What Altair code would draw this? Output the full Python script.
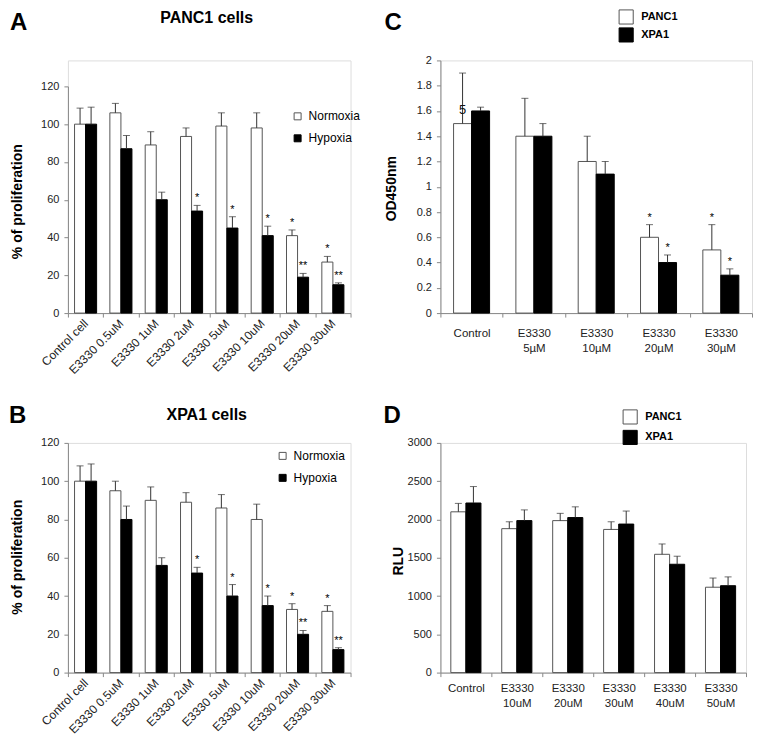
import altair as alt
import pandas as pd

FONT = "Liberation Sans"

# ---------------- Panel A : PANC1 cells ----------------
a_cats = ["Control cell", "E3330 0.5uM", "E3330 1uM", "E3330 2uM",
          "E3330 5uM", "E3330 10uM", "E3330 20uM", "E3330 30uM"]
a_series = ["Normoxia", "Hypoxia"]
a_norm = [100, 106, 89, 93.5, 99, 98, 41, 27]
a_norm_err = [108.5, 111, 96, 98, 106, 106, 44, 30]
a_hyp = [100, 87, 60, 54, 45, 41, 19, 15]
a_hyp_err = [109, 94, 64, 57, 51, 46, 21, 16]
a_norm_star = ["", "", "", "", "", "", "*", "*"]
a_hyp_star = ["", "", "", "*", "*", "*", "**", "**"]

# ---------------- Panel B : XPA1 cells ----------------
b_cats = a_cats
b_series = a_series
b_norm = [100, 95, 90, 89, 86, 80, 33, 32]
b_norm_err = [108, 100, 97, 94, 93, 88, 36, 35]
b_hyp = [100, 80, 56, 52, 40, 35, 20, 12]
b_hyp_err = [109, 87, 60, 55, 46, 40, 22, 13]
b_norm_star = ["", "", "", "", "", "", "*", "*"]
b_hyp_star = ["", "", "", "*", "*", "*", "**", "**"]

# ---------------- Panel C : OD450nm ----------------
c_cats = ["Control", "E3330 5µM", "E3330 10µM", "E3330 20µM", "E3330 30µM"]
c_series = ["PANC1", "XPA1"]
c_panc = [1.5, 1.4, 1.2, 0.6, 0.5]
c_panc_err = [1.9, 1.7, 1.4, 0.7, 0.7]
c_xpa = [1.6, 1.4, 1.1, 0.4, 0.3]
c_xpa_err = [1.63, 1.5, 1.2, 0.46, 0.35]
c_panc_star = ["", "", "", "*", "*"]
c_xpa_star = ["", "", "", "*", "*"]
c_note_text = ["5"]
c_note_cat = ["Control"]
c_note_series = ["PANC1"]
c_note_value = [1.61]

# ---------------- Panel D : RLU ----------------
d_cats = ["Control", "E3330 10uM", "E3330 20uM", "E3330 30uM", "E3330 40uM", "E3330 50uM"]
d_series = ["PANC1", "XPA1"]
d_panc = [2100, 1880, 1985, 1870, 1545, 1115]
d_panc_err = [2210, 1970, 2080, 1970, 1680, 1235]
d_xpa = [2215, 1985, 2025, 1940, 1415, 1135]
d_xpa_err = [2430, 2125, 2165, 2110, 1520, 1250]
d_panc_star = ["", "", "", "", "", ""]
d_xpa_star = ["", "", "", "", "", ""]

panel_letters = ["A", "B", "C", "D"]
panel_titles = ["PANC1 cells", "XPA1 cells"]

AXIS_GRAY = "#888888"


def make_panel(cats, series, vals, errs, stars, *, width, height, yrange, ydomain,
               yvalues, yfmt, ytitle, ytitle_xy, letter, letter_xy, legend,
               pad_outer, rotated, xlabel_pad=6, title=None, title_xy=None, notes=None):
    rows = []
    for ci, c in enumerate(cats):
        for si, s in enumerate(series):
            rows.append({"cat": c, "series": s, "value": vals[si][ci],
                         "err": errs[si][ci], "star": stars[si][ci]})
    df = pd.DataFrame(rows)

    if rotated:
        xaxis = alt.Axis(title=None, tickBand="extent", labelAngle=315,
                         labelAlign="right", labelBaseline="middle", labelPadding=4,
                         labelFont=FONT, labelFontSize=12, labelColor="#222",
                         domainColor=AXIS_GRAY, tickColor=AXIS_GRAY, tickSize=4)
    else:
        xaxis = alt.Axis(title=None, tickBand="extent", labelAngle=0,
                         labelExpr="split(datum.label, ' ')", labelBaseline="top",
                         labelLineHeight=15, labelPadding=xlabel_pad,
                         labelFont=FONT, labelFontSize=11.5, labelColor="#222",
                         domainColor=AXIS_GRAY, tickColor=AXIS_GRAY, tickSize=4)
    x = alt.X("cat:N", scale=alt.Scale(domain=cats, paddingInner=0, paddingOuter=0),
              axis=xaxis)
    xoff = alt.XOffset("series:N", scale=alt.Scale(domain=series, paddingInner=0,
                                                   paddingOuter=pad_outer))
    yscale_kw = dict(domain=ydomain, nice=False, zero=True)
    if yrange is not None:
        yscale_kw["range"] = yrange
    yaxis = alt.Axis(values=yvalues, format=yfmt, title=ytitle, titleFont=FONT,
                     titleFontSize=14, titleFontWeight="bold", titleAngle=270,
                     titleBaseline="alphabetic", titleAlign="center",
                     titleX=ytitle_xy[0], titleY=ytitle_xy[1], titleColor="black",
                     labelFont=FONT, labelFontSize=11, labelColor="#222", labelPadding=5,
                     domainColor=AXIS_GRAY, tickColor=AXIS_GRAY, tickSize=4, grid=False)

    def Y(field):
        return alt.Y(field, scale=alt.Scale(**yscale_kw), axis=yaxis)

    bars = alt.Chart(df).mark_bar(strokeWidth=1).encode(
        x=x, xOffset=xoff, y=Y("value:Q"),
        fill=alt.Fill("series:N", scale=alt.Scale(domain=series, range=["white", "black"]),
                      legend=legend),
        stroke=alt.Stroke("series:N", scale=alt.Scale(domain=series, range=["#555555", "#000000"]),
                          legend=None),
    )
    err_line = alt.Chart(df).mark_rule(color="#333", strokeWidth=1).encode(
        x=x, xOffset=xoff, y=Y("value:Q"), y2="err:Q")
    err_cap = alt.Chart(df).mark_tick(color="#333", thickness=1, size=7,
                                      orient="horizontal").encode(
        x=x, xOffset=xoff, y=Y("err:Q"))
    star_txt = alt.Chart(df).transform_filter("datum.star != ''").mark_text(
        font=FONT, fontSize=11, baseline="alphabetic", dy=-4, color="black").encode(
        x=x, xOffset=xoff, y=Y("err:Q"), text="star:N")
    letter_df = pd.DataFrame({"t": [letter]})
    letter_txt = alt.Chart(letter_df).mark_text(
        font=FONT, fontSize=24, fontWeight="bold", align="left", baseline="alphabetic",
        color="black").encode(x=alt.value(letter_xy[0]), y=alt.value(letter_xy[1]),
                              text="t:N")
    layers = [bars, err_line, err_cap, star_txt, letter_txt]
    if title is not None:
        title_df = pd.DataFrame({"t": [title]})
        layers.append(alt.Chart(title_df).mark_text(
            font=FONT, fontSize=16, fontWeight="bold", align="center",
            baseline="alphabetic", color="black").encode(
            x=alt.value(title_xy[0]), y=alt.value(title_xy[1]), text="t:N"))
    if notes is not None:
        ndf = pd.DataFrame(notes)
        layers.append(alt.Chart(ndf).mark_text(font=FONT, fontSize=13, baseline="middle",
                                               color="#111").encode(
            x=x, xOffset=xoff, y=Y("value:Q"), text="text:N"))
    return alt.layer(*layers).properties(width=width, height=height)


def small_legend(lx, ly):
    return alt.Legend(orient="none", legendX=lx, legendY=ly, title=None,
                      symbolType="square", symbolSize=49, symbolStrokeColor="#555",
                      symbolStrokeWidth=1, labelFont=FONT, labelFontSize=12,
                      labelColor="black", rowPadding=10, labelOffset=5, padding=0)


def big_legend(lx, ly, rowpad):
    return alt.Legend(orient="none", legendX=lx, legendY=ly, title=None,
                      symbolType="square", symbolSize=200, symbolStrokeColor="#222",
                      symbolStrokeWidth=1, labelFont=FONT, labelFontSize=11,
                      labelFontWeight="bold", labelColor="black", rowPadding=rowpad,
                      labelOffset=7, padding=0)


pA = make_panel(a_cats, a_series, [a_norm, a_hyp], [a_norm_err, a_hyp_err],
                [a_norm_star, a_hyp_star], width=283, height=253, yrange=[253, 26],
                ydomain=[0, 120], yvalues=[0, 20, 40, 60, 80, 100, 120], yfmt="d",
                ytitle="% of proliferation", ytitle_xy=[-46, 141],
                letter=panel_letters[0], letter_xy=[-58, -30],
                legend=small_legend(224, 50), pad_outer=0.6, rotated=True,
                title=panel_titles[0], title_xy=[139, -37])

pB = make_panel(b_cats, b_series, [b_norm, b_hyp], [b_norm_err, b_hyp_err],
                [b_norm_star, b_hyp_star], width=283, height=230, yrange=None,
                ydomain=[0, 120], yvalues=[0, 20, 40, 60, 80, 100, 120], yfmt="d",
                ytitle="% of proliferation", ytitle_xy=[-46, 114],
                letter=panel_letters[1], letter_xy=[-59, -20],
                legend=small_legend(209, 7), pad_outer=0.6, rotated=True,
                title=panel_titles[1], title_xy=[139, -23])

pC = make_panel(c_cats, c_series, [c_panc, c_xpa], [c_panc_err, c_xpa_err],
                [c_panc_star, c_xpa_star], width=312, height=253, yrange=None,
                ydomain=[0, 2], yvalues=[0, 0.2, 0.4, 0.6, 0.8, 1, 1.2, 1.4, 1.6, 1.8, 2],
                yfmt="~g", ytitle="OD450nm", ytitle_xy=[-45, 128],
                letter=panel_letters[2], letter_xy=[-56, -30],
                legend=big_legend(178, -51.5, -2), pad_outer=0.73, rotated=False,
                xlabel_pad=10,
                notes={"cat": c_note_cat, "series": c_note_series,
                       "value": c_note_value, "text": c_note_text})

pD = make_panel(d_cats, d_series, [d_panc, d_xpa], [d_panc_err, d_xpa_err],
                [d_panc_star, d_xpa_star], width=306, height=230, yrange=None,
                ydomain=[0, 3000], yvalues=[0, 500, 1000, 1500, 2000, 2500, 3000],
                yfmt="d", ytitle="RLU", ytitle_xy=[-38, 118],
                letter=panel_letters[3], letter_xy=[-57, -20],
                legend=big_legend(182, -34, 0.5), pad_outer=0.69, rotated=False,
                xlabel_pad=6)

chart = alt.concat(pA, pC, pB, pD, columns=2, spacing={"row": 130, "column": 90},
                   bounds="flush", padding=0).resolve_scale(
    x="independent", y="independent", xOffset="independent",
    fill="independent", stroke="independent").configure_view(stroke=None).configure(
    background="white")

chart.save("out.html", embed_options={"renderer": "svg", "actions": False})
